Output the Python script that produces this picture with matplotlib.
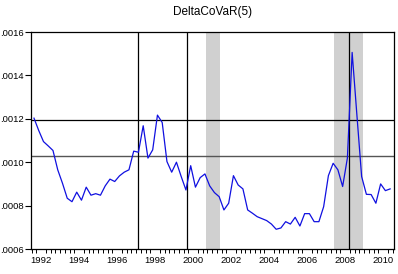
import matplotlib
matplotlib.use("Agg")
import matplotlib.pyplot as plt
import numpy as np

# quarterly series, 1992Q1 .. 2010Q4
START_YEAR = 1992
dcovar = [
    0.001203, 0.001146, 0.001095, 0.001075, 0.001054, 0.000965, 0.000903, 0.000834,
    0.000818, 0.000862, 0.000825, 0.000885, 0.000848, 0.000855, 0.000848, 0.000891,
    0.000922, 0.000911, 0.000937, 0.000954, 0.000965, 0.001051, 0.001046, 0.001168,
    0.001019, 0.001057, 0.001217, 0.001183, 0.001003, 0.000954, 0.001000, 0.000934,
    0.000872, 0.000984, 0.000885, 0.000929, 0.000946, 0.000891, 0.000860, 0.000841,
    0.000780, 0.000811, 0.000938, 0.000895, 0.000877, 0.000780, 0.000765, 0.000749,
    0.000740, 0.000731, 0.000715, 0.000691, 0.000697, 0.000726, 0.000715, 0.000746,
    0.000706, 0.000763, 0.000763, 0.000726, 0.000726, 0.000795, 0.000938, 0.000995,
    0.000965, 0.000888, 0.001019, 0.001506, 0.001218, 0.000934, 0.000852, 0.000851,
    0.000811, 0.000900, 0.000869, 0.000877,
]

# recession bands (NBER) and event lines, in fractional years
recessions = [(2001.17, 2001.92), (2007.92, 2009.47)]
event_lines = [1997.62, 2000.17, 2008.70]
h_black = 0.001194
h_gray = 0.001028

label_years = list(range(1992, 2011, 2))
yticks = [0.0006, 0.0008, 0.0010, 0.0012, 0.0014, 0.0016]

plt.rcParams["font.family"] = ["Liberation Sans", "DejaVu Sans"]

fig = plt.figure(figsize=(3.98, 2.74), dpi=100)
ax = fig.add_axes([0.078, 0.0912, 0.912, 0.792])

t = START_YEAR + (np.arange(len(dcovar)) + 0.5) / 4

for a, b in recessions:
    ax.axvspan(a, b, color="#d0d0d0", lw=0, zorder=0)
ax.axhline(h_gray, color="#555555", lw=1.0, zorder=1)
ax.axhline(h_black, color="black", lw=0.9, zorder=1)
for x in event_lines:
    ax.axvline(x, color="black", lw=0.9, zorder=1)

ax.plot(t, dcovar, color="#1010e0", lw=0.9, zorder=3)

ax.set_xlim(1991.97, 2011.08)
ax.set_ylim(0.0006, 0.0016)

ax.set_xticks([y + 0.5 for y in label_years])
ax.set_xticklabels([str(y) for y in label_years], fontsize=6.8)
ax.set_xticks(np.arange(1992, 2011.01, 0.25), minor=True)
ax.tick_params(axis="x", which="major", length=0, pad=5)
ax.tick_params(axis="x", which="minor", length=3, width=0.7, direction="out")

# EViews-style labels without the leading zero
ax.set_yticks(yticks)
ax.set_yticklabels([f"{v:.4f}"[1:] for v in yticks], fontsize=6.8)
ax.tick_params(axis="y", length=4, width=0.8, pad=1.5)

for s in ax.spines.values():
    s.set_linewidth(0.9)

ax.set_title("DeltaCoVaR(5)", fontsize=8.5, pad=12)

fig.savefig("out.png", dpi=100)
